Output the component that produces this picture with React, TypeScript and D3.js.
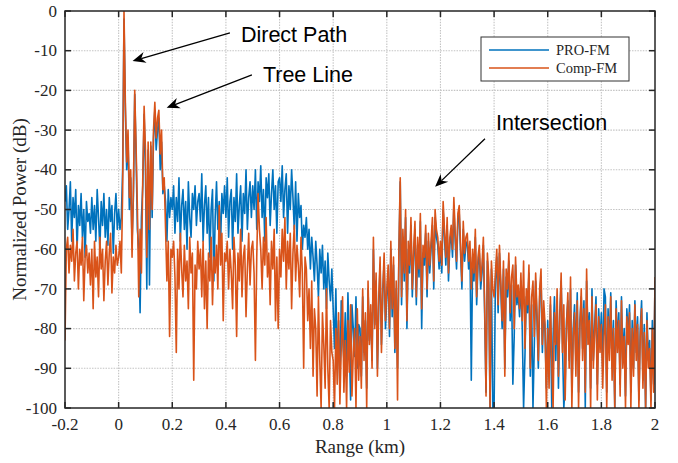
import * as d3 from "d3";

// range axis sampling of the two traces (km)
const rangeStart = -0.2;
const rangeStep = 0.005;

// PRO-FM trace, normalized power in dB (one row = 0.1 km)
const proFm = [
  -48, -44, -55, -50, -43, -58, -47, -52, -45, -60, -49, -54, -46, -57, -50, -62, -48, -53, -51, -56,
  -47, -55, -49, -58, -45, -52, -60, -48, -54, -46, -57, -50, -59, -47, -53, -49, -61, -51, -46, -55,
  -50, -55, -52, -40, -2, -25, -40, -32, -50, -42, -58, -47, -21, -36, -55, -60, -76, -52, -44, -26,
  -40, -70, -35, -69, -34, -52, -32, -25, -35, -30, -27, -40, -33, -46, -44, -48, -58, -45, -52, -47,
  -50, -44, -56, -47, -53, -42, -58, -49, -45, -55, -48, -60, -43, -52, -57, -46, -50, -44, -54, -48,
  -46, -53, -41, -58, -49, -44, -56, -47, -62, -50, -45, -68, -52, -43, -55, -48, -59, -46, -51, -44,
  -52, -42, -57, -48, -45, -60, -47, -53, -41, -56, -49, -44, -58, -46, -51, -40, -55, -47, -43, -52,
  -44, -50, -40, -55, -43, -48, -39, -52, -45, -58, -42, -47, -41, -54, -46, -40, -50, -44, -56, -43,
  -42, -48, -39, -52, -45, -41, -56, -44, -50, -40, -47, -55, -43, -58, -46, -52, -49, -60, -54, -57,
  -52, -60, -55, -65, -57, -62, -68, -58, -64, -72, -60, -66, -59, -70, -63, -75, -61, -68, -73, -65,
  -75, -85, -70, -90, -78, -95, -73, -82, -88, -76, -92, -71, -84, -98, -74, -80, -87, -72, -90, -79,
  -80, -92, -72, -86, -78, -95, -70, -83, -76, -88, -60, -79, -68, -90, -74, -64, -84, -71, -63, -80,
  -72, -66, -82, -60, -77, -64, -86, -70, -90, -62, -43, -74, -57, -68, -52, -80, -60, -66, -54, -72,
  -62, -55, -74, -59, -67, -53, -80, -61, -64, -56, -72, -58, -66, -60, -54, -70, -52, -57, -59, -65,
  -60, -66, -50, -57, -64, -54, -68, -59, -56, -62, -49, -58, -65, -53, -51, -61, -70, -55, -63, -59,
  -58, -65, -60, -93, -62, -68, -57, -74, -64, -61, -70, -66, -59, -77, -96, -63, -69, -100, -65, -100,
  -100, -68, -62, -76, -61, -70, -80, -65, -90, -67, -72, -63, -78, -69, -94, -82, -64, -74, -71, -77,
  -68, -80, -100, -87, -72, -76, -66, -92, -74, -100, -84, -68, -78, -90, -72, -67, -86, -75, -81, -95,
  -78, -90, -74, -100, -82, -72, -88, -73, -95, -76, -68, -84, -100, -94, -78, -73, -88, -70, -96, -80,
  -74, -88, -71, -96, -78, -72, -85, -73, -100, -68, -82, -76, -95, -70, -88, -79, -72, -94, -75, -84,
  -76, -90, -70, -72, -96, -75, -85, -71, -90, -78, -100, -73, -84, -76, -94, -72, -88, -80, -97, -75,
  -82, -74, -96, -78, -90, -73, -86, -77, -98, -80, -73, -93, -79, -100, -76, -88, -83, -98, -78, -94, -68,
];

// Comp-FM trace, normalized power in dB
const compFm = [
  -83, -60, -57, -66, -59, -63, -55, -68, -61, -58, -70, -60, -64, -57, -73, -62, -59, -66, -61, -69,
  -60, -75, -58, -67, -62, -72, -57, -65, -60, -73, -63, -58, -69, -61, -56, -71, -62, -66, -59, -64,
  -62, -58, -66, -45, 0, -23, -38, -30, -47, -40, -62, -45, -20, -34, -50, -72, -55, -66, -42, -24,
  -35, -62, -33, -55, -33, -50, -30, -23, -32, -27, -25, -36, -30, -45, -42, -55, -68, -58, -82, -60,
  -62, -58, -67, -86, -60, -70, -56, -65, -72, -59, -68, -63, -75, -57, -66, -61, -93, -64, -70, -58,
  -65, -60, -72, -58, -75, -63, -80, -61, -68, -57, -74, -62, -66, -59, -70, -49, -64, -56, -78, -61,
  -63, -58, -70, -60, -66, -75, -57, -64, -82, -61, -68, -55, -72, -62, -59, -77, -65, -56, -69, -60,
  -58, -66, -88, -62, -46, -55, -60, -70, -57, -64, -52, -67, -61, -74, -58, -65, -55, -78, -62, -80,
  -60, -67, -55, -63, -52, -70, -58, -65, -56, -75, -61, -54, -68, -59, -64, -72, -57, -66, -90, -62,
  -65, -78, -70, -85, -68, -92, -75, -80, -97, -72, -88, -100, -76, -84, -95, -70, -90, -100, -78, -86,
  -88, -100, -80, -94, -76, -99, -85, -72, -96, -83, -100, -78, -91, -74, -97, -86, -80, -100, -75, -93,
  -82, -95, -70, -88, -76, -100, -68, -84, -74, -90, -57, -80, -66, -92, -72, -62, -86, -70, -61, -78,
  -70, -64, -80, -58, -75, -62, -85, -68, -98, -60, -42, -72, -55, -66, -50, -78, -58, -64, -52, -70,
  -60, -53, -72, -57, -65, -51, -75, -59, -62, -54, -70, -56, -64, -58, -52, -68, -50, -55, -57, -63,
  -58, -64, -48, -55, -62, -52, -66, -57, -54, -60, -47, -56, -63, -51, -49, -59, -68, -53, -61, -57,
  -56, -63, -58, -70, -60, -66, -55, -72, -62, -59, -68, -64, -57, -75, -97, -61, -67, -100, -63, -70,
  -72, -66, -60, -74, -59, -68, -78, -63, -92, -65, -70, -61, -76, -67, -64, -80, -62, -72, -69, -75,
  -66, -78, -63, -85, -70, -74, -64, -90, -72, -68, -82, -66, -76, -88, -70, -65, -84, -73, -79, -100,
  -80, -95, -72, -88, -100, -76, -84, -70, -92, -78, -66, -86, -74, -98, -80, -71, -90, -67, -100, -82,
  -76, -92, -73, -100, -80, -70, -88, -75, -96, -65, -84, -78, -100, -72, -90, -81, -74, -98, -77, -86,
  -79, -95, -82, -74, -100, -77, -88, -72, -93, -80, -100, -75, -86, -78, -97, -73, -90, -82, -100, -77,
  -84, -76, -100, -80, -92, -74, -88, -79, -100, -82, -75, -95, -81, -100, -78, -90, -85, -100, -80, -96, -67,
];

const seriesNames = ["PRO-FM", "Comp-FM"];
const seriesColors = ["#0072BD", "#D95319"];

const xTicks = [-0.2, 0, 0.2, 0.4, 0.6, 0.8, 1, 1.2, 1.4, 1.6, 1.8, 2];
const yTicks = [0, -10, -20, -30, -40, -50, -60, -70, -80, -90, -100];

// text callouts, in data units: label anchor, arrow tail, arrow tip
const callouts = [
  { label: "Direct Path", at: [0.456, -7.8], tail: [0.415, -5.5], tip: [0.052, -12.6] },
  { label: "Tree Line", at: [0.538, -17.8], tail: [0.497, -16.1], tip: [0.179, -24.4] },
  { label: "Intersection", at: [1.407, -30.0], tail: [1.366, -32.2], tip: [1.18, -44.3] },
];

const serif = "'Liberation Serif', 'Times New Roman', serif";
const sans = "'Liberation Sans', Arial, sans-serif";

export default function App() {
  const width = 678;
  const height = 463;
  const margin = { top: 11, right: 23, bottom: 55, left: 65 };
  const x0 = margin.left;
  const x1 = width - margin.right;
  const y0 = margin.top;
  const y1 = height - margin.bottom;

  const x = d3.scaleLinear().domain([-0.2, 2]).range([x0, x1]);
  const y = d3.scaleLinear().domain([-100, 0]).range([y1, y0]);

  const line = d3
    .line<number>()
    .x((_, i) => x(rangeStart + i * rangeStep))
    .y((d) => y(d));

  const tickLen = 6;
  const fmt = (t: number) => `${+t.toFixed(1)}`;

  const arrowHead = (tail: number[], tip: number[]) => {
    const tx = x(tip[0]);
    const ty = y(tip[1]);
    const sx = x(tail[0]);
    const sy = y(tail[1]);
    const len = Math.hypot(tx - sx, ty - sy);
    const ux = (tx - sx) / len;
    const uy = (ty - sy) / len;
    const px = -uy;
    const py = ux;
    const L = 13;
    const W = 5.5;
    const N = 4;
    const pts = [
      [tx, ty],
      [tx - ux * L + px * W, ty - uy * L + py * W],
      [tx - ux * (L - N), ty - uy * (L - N)],
      [tx - ux * L - px * W, ty - uy * L - py * W],
    ];
    return {
      head: "M" + pts.map((p) => p.join(",")).join("L") + "Z",
      shaft: { x1: sx, y1: sy, x2: tx - ux * (L - N), y2: ty - uy * (L - N) },
    };
  };

  const traces = [proFm, compFm];
  const legendX = 481;
  const legendY = 37;

  return (
    <svg
      width={width}
      height={height}
      style={{ position: "absolute", left: 0, top: 0, background: "#fff" }}
    >
      <defs>
        <clipPath id="plot-clip">
          <rect x={x0} y={y0} width={x1 - x0} height={y1 - y0} />
        </clipPath>
      </defs>

      {/* grid */}
      <g stroke="#c4c4c4" strokeWidth={1.1} strokeDasharray="1.5,1.2">
        {xTicks.slice(1, -1).map((t) => (
          <line key={"gx" + t} x1={x(t)} x2={x(t)} y1={y0} y2={y1} />
        ))}
        {yTicks.slice(1, -1).map((t) => (
          <line key={"gy" + t} x1={x0} x2={x1} y1={y(t)} y2={y(t)} />
        ))}
      </g>

      {/* traces */}
      <g clipPath="url(#plot-clip)" fill="none" strokeWidth={1.6} strokeLinejoin="round">
        {traces.map((data, k) => (
          <path key={seriesNames[k]} d={line(data) ?? ""} stroke={seriesColors[k]} />
        ))}
      </g>

      {/* axes box and ticks */}
      <g stroke="#262626" strokeWidth={1.5}>
        <rect x={x0} y={y0} width={x1 - x0} height={y1 - y0} fill="none" />
        {xTicks.map((t) => (
          <g key={"tx" + t}>
            <line x1={x(t)} x2={x(t)} y1={y1} y2={y1 - tickLen} />
            <line x1={x(t)} x2={x(t)} y1={y0} y2={y0 + tickLen} />
          </g>
        ))}
        {yTicks.map((t) => (
          <g key={"ty" + t}>
            <line x1={x0} x2={x0 + tickLen} y1={y(t)} y2={y(t)} />
            <line x1={x1} x2={x1 - tickLen} y1={y(t)} y2={y(t)} />
          </g>
        ))}
      </g>

      <g fontFamily={serif} fontSize={17} fill="#262626">
        {xTicks.map((t) => (
          <text key={"lx" + t} x={x(t)} y={y1 + 22} textAnchor="middle">
            {fmt(t)}
          </text>
        ))}
        {yTicks.map((t) => (
          <text key={"ly" + t} x={x0 - 8} y={y(t)} dy="0.33em" textAnchor="end">
            {fmt(t)}
          </text>
        ))}
        <text x={(x0 + x1) / 2} y={y1 + 45} textAnchor="middle" fontSize={19}>
          Range (km)
        </text>
        <text
          transform={`translate(20,${(y0 + y1) / 2}) rotate(-90)`}
          textAnchor="middle"
          dy="0.33em"
          fontSize={19}
        >
          Normalized Power (dB)
        </text>
      </g>

      {/* legend */}
      <g>
        <rect x={legendX} y={legendY} width={148} height={44} fill="#fff" stroke="#333" strokeWidth={1} />
        {seriesNames.map((name, k) => (
          <g key={"lg" + name}>
            <line
              x1={legendX + 8}
              x2={legendX + 68}
              y1={legendY + 13 + k * 18}
              y2={legendY + 13 + k * 18}
              stroke={seriesColors[k]}
              strokeWidth={1.5}
            />
            <text
              x={legendX + 75}
              y={legendY + 13 + k * 18}
              dy="0.33em"
              fontFamily={serif}
              fontSize={14.5}
              fill="#262626"
            >
              {name}
            </text>
          </g>
        ))}
      </g>

      {/* callouts */}
      {callouts.map((c) => {
        const a = arrowHead(c.tail, c.tip);
        return (
          <g key={c.label}>
            <line {...a.shaft} stroke="#000" strokeWidth={1.3} />
            <path d={a.head} fill="#000" />
            <text x={x(c.at[0])} y={y(c.at[1])} fontFamily={sans} fontSize={21.5} fill="#000">
              {c.label}
            </text>
          </g>
        );
      })}
    </svg>
  );
}
